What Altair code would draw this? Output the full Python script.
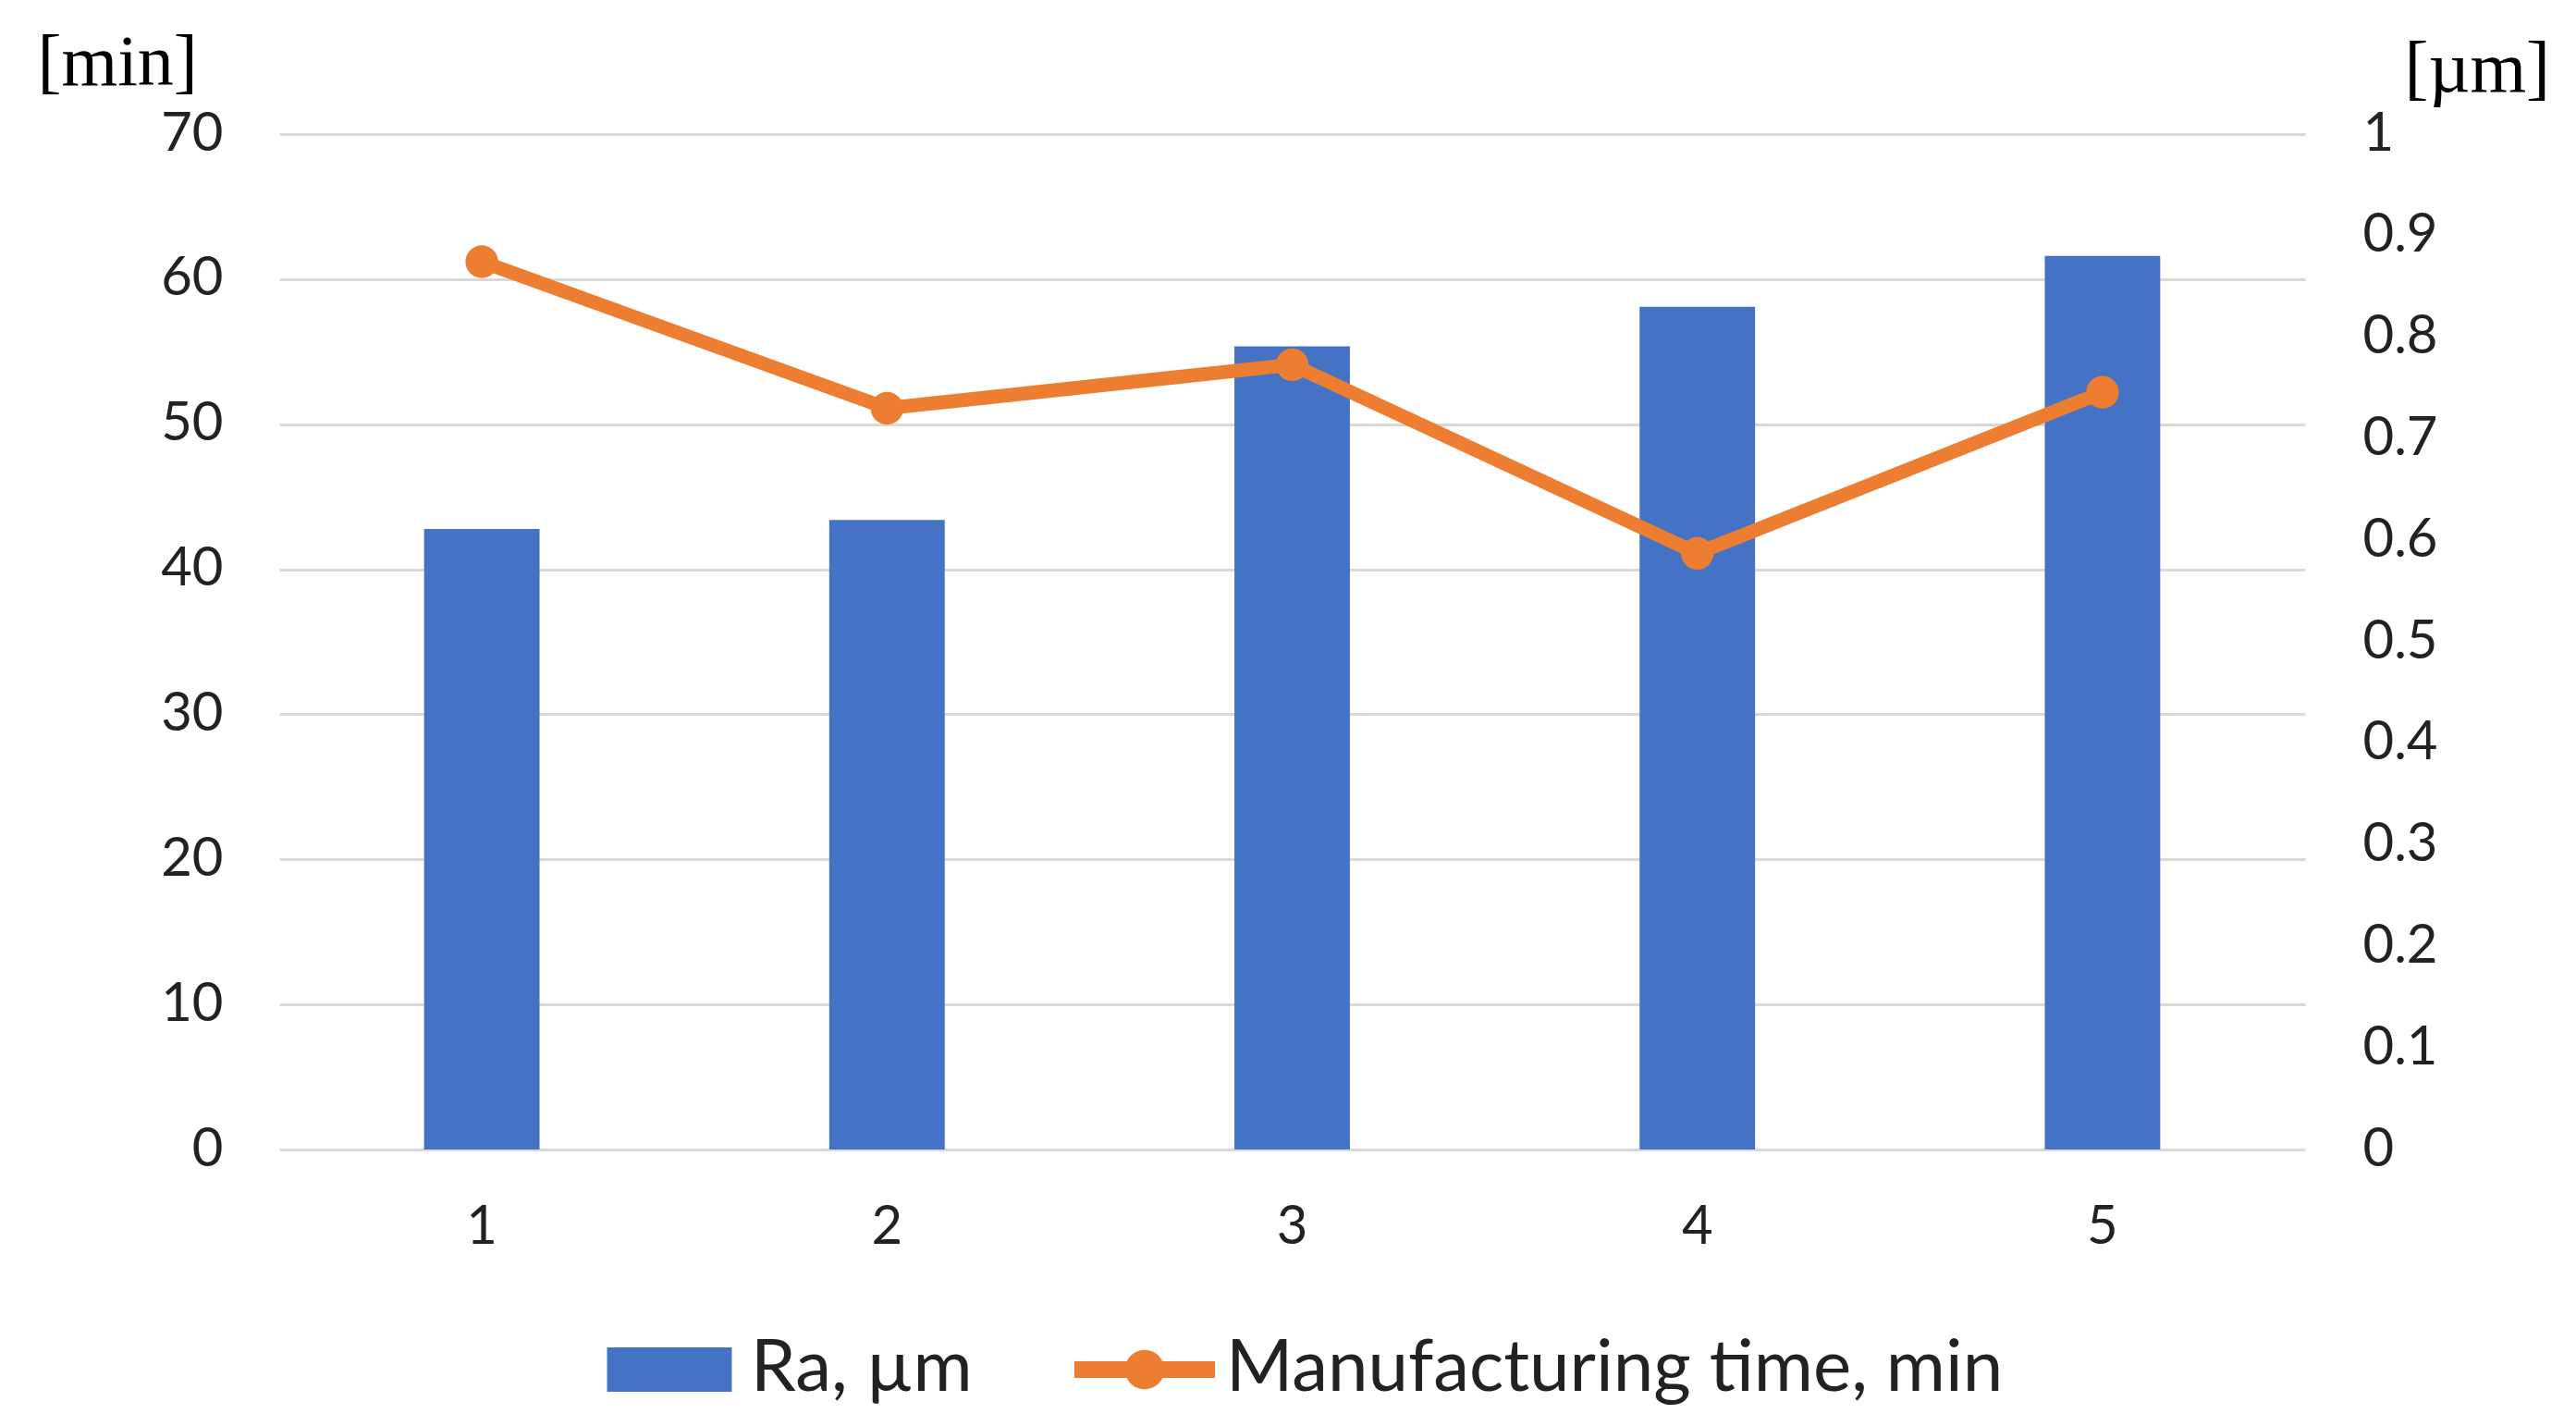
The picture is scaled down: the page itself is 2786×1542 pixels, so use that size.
import altair as alt
import pandas as pd

# ---- data ----
runs = ["1", "2", "3", "4", "5"]
ra_um = [0.611, 0.620, 0.791, 0.830, 0.880]
time_min = [61.2, 51.1, 54.1, 41.1, 52.2]
series_names = ["Ra, µm", "Manufacturing time, min"]
series_colors = ["#4472C4", "#ED7D31"]
time_ticks = [0, 10, 20, 30, 40, 50, 60, 70]
ra_ticks = [0, 0.1, 0.2, 0.3, 0.4, 0.5, 0.6, 0.7, 0.8, 0.9, 1]

df = pd.DataFrame({"run": runs, "ra": ra_um, "time": time_min})
legend_df = pd.DataFrame({"series": series_names})

FONT = "Lato"
SERIF = "Liberation Serif"
TXT = "#222222"

rect_path = "M-0.888,-0.316H0.888V0.316H-0.888Z"
line_path = ("M-1,-0.12H1V0.12H-1Z "
             "M-0.28,0A0.28,0.28 0 1,1 0.28,0A0.28,0.28 0 1,1 -0.28,0Z")

x_enc = alt.X(
    "run:O", sort=runs,
    scale=alt.Scale(paddingInner=0.715, paddingOuter=0.3575),
    axis=alt.Axis(title=None, labelAngle=0, labelFontSize=58, labelFont=FONT,
                  labelColor=TXT, labelPadding=55, domain=False, ticks=False,
                  grid=False),
)

bars = alt.Chart(df).mark_bar(color=series_colors[0]).encode(
    x=x_enc,
    y=alt.Y("ra:Q", scale=alt.Scale(domain=[0, 1], nice=False),
            axis=alt.Axis(orient="right", values=ra_ticks, format=".2~f",
                          grid=False, domain=False, ticks=False,
                          labelFont=FONT, labelFontSize=58, labelColor=TXT,
                          labelPadding=62,
                          title="[µm]", titleAngle=0, titleFont=SERIF,
                          titleFontSize=78, titleFontWeight="normal",
                          titleColor="#000000", titleAlign="left",
                          titleBaseline="alphabetic", titleX=107, titleY=-47)),
)

line = alt.Chart(df).mark_line(
    color=series_colors[1], strokeWidth=15,
    point=alt.OverlayMarkDef(filled=True, size=1250, color=series_colors[1], opacity=1),
).encode(
    x=x_enc,
    y=alt.Y("time:Q", scale=alt.Scale(domain=[0, 70], nice=False),
            axis=alt.Axis(orient="left", values=time_ticks, grid=True,
                          gridColor="#D9D9D9", gridWidth=3, domain=False,
                          ticks=False, labelFont=FONT, labelFontSize=58,
                          labelColor=TXT, labelPadding=61,
                          title="[min]", titleAngle=0, titleFont=SERIF,
                          titleFontSize=78, titleFontWeight="normal",
                          titleColor="#000000", titleAlign="left",
                          titleBaseline="alphabetic", titleX=-262, titleY=-54)),
)

leg = alt.Legend(
    title=None, orient="none", legendX=346, legendY=1260,
    direction="horizontal", symbolSize=23104, symbolStrokeWidth=0,
    symbolOpacity=1, labelFont=FONT, labelFontSize=78, labelColor=TXT,
    labelOffset=12, columnPadding=110, labelLimit=3000,
)

legend_layer = alt.Chart(legend_df).mark_point(filled=True, opacity=0).encode(
    color=alt.Color("series:N", scale=alt.Scale(domain=series_names, range=series_colors),
                    legend=leg),
    shape=alt.Shape("series:N", scale=alt.Scale(domain=series_names, range=[rect_path, line_path]),
                    legend=leg),
)

chart = alt.layer(bars, line, legend_layer).resolve_scale(y="independent").properties(
    width=2191, height=1098,
    autosize=alt.AutoSizeParams(type="none"),
    padding={"left": 294, "top": 137, "right": 280, "bottom": 280},
    background="white",
).configure_view(stroke=None)

chart.save("out.html", embed_options={"renderer": "svg", "actions": False})
